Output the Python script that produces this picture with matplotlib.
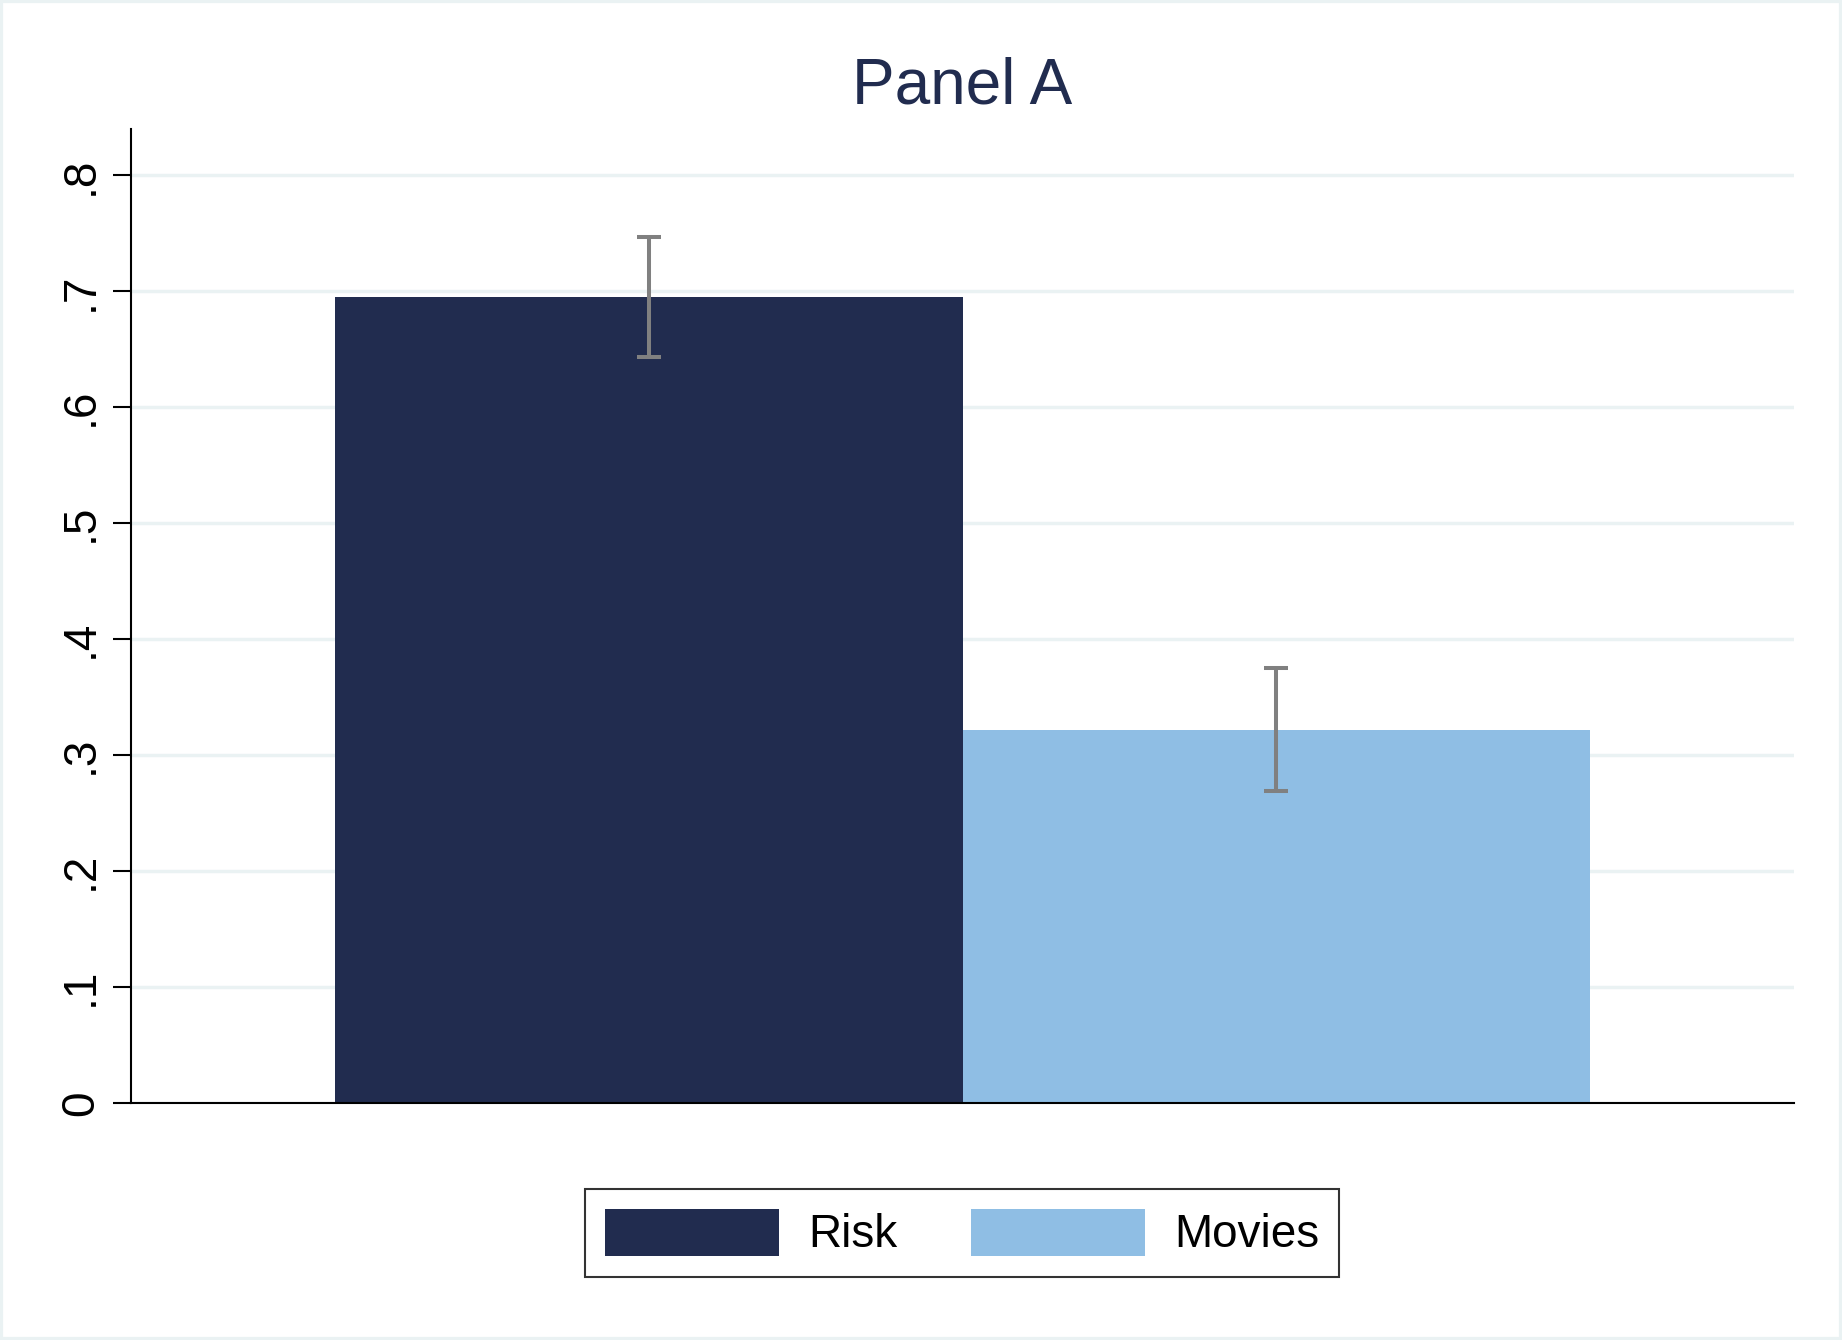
import numpy as np
import matplotlib.pyplot as plt
from matplotlib.patches import Rectangle

# values
groups = ['Risk', 'Movies']
means = [0.695, 0.322]
ci_half = [0.052, 0.053]
colors = ['#212c4f', '#8fbee4']
yticks = [0, 0.1, 0.2, 0.3, 0.4, 0.5, 0.6, 0.7, 0.8]
ytick_labels = ['0', '.1', '.2', '.3', '.4', '.5', '.6', '.7', '.8']

plt.rcParams['font.family'] = ['Liberation Sans', 'DejaVu Sans']

W, H = 1842, 1340
fig = plt.figure(figsize=(W / 100, H / 100), dpi=100)
fig.patch.set_facecolor('white')

# light outer frame of the graph region
fig.patches.append(Rectangle((0, 0), 1, 1, transform=fig.transFigure,
                             fill=False, edgecolor='#eaf2f3', lw=4.5))

ax = fig.add_axes([131 / W, 1 - 1103 / H, (1794 - 131) / W, (1103 - 129) / H])

x = np.arange(len(groups))
bars = ax.bar(x, means, width=1.0, color=colors, zorder=2, label=groups)
ax.errorbar(x, means, yerr=ci_half, fmt='none', ecolor='#808080',
            elinewidth=2.9, capsize=8.6, capthick=2.9, zorder=3)

ax.set_xlim(-0.825, 1.825)
ax.set_ylim(0, 0.84)
ax.set_yticks(yticks)
ax.set_yticklabels(ytick_labels, rotation=90, va='center')
ax.set_xticks([])
ax.yaxis.grid(True, color='#eaf2f3', lw=2.5, zorder=0)
ax.set_axisbelow(True)

for s in ['top', 'right']:
    ax.spines[s].set_visible(False)
for s in ['left', 'bottom']:
    ax.spines[s].set_linewidth(1.5)
ax.tick_params(axis='y', length=13, width=1.5, pad=7, labelsize=33)

fig.text(962 / W, 1 - 86 / H, 'Panel A', ha='center', va='center',
         fontsize=46, color='#212c4f')

leg = fig.legend(bars, groups, loc='center', bbox_to_anchor=(962 / W, 1 - 1233 / H),
                 ncol=2, fontsize=33, frameon=True, fancybox=False,
                 handlelength=3.8, handleheight=1.2, handletextpad=0.63,
                 columnspacing=1.6, borderpad=0.43, borderaxespad=0)
leg.get_frame().set_edgecolor('black')
leg.get_frame().set_linewidth(1.5)

fig.savefig('out.png', dpi=100)
